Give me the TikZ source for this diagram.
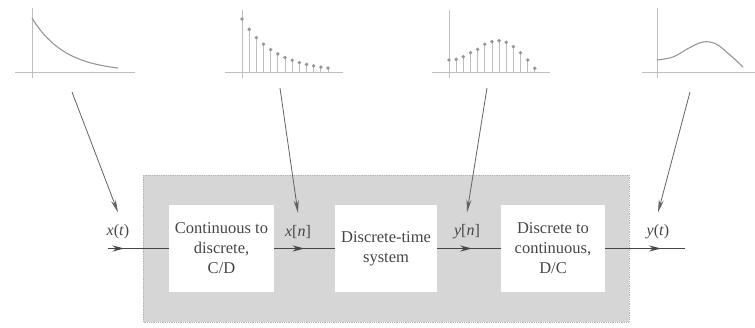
\documentclass[tikz,border=0pt]{standalone}
\usepackage{fontspec}
\setmainfont{Liberation Serif}
\usetikzlibrary{arrows.meta,decorations.markings}
\definecolor{panel}{RGB}{214,214,214}
\definecolor{paneledge}{RGB}{180,180,180}
\definecolor{ink}{RGB}{70,70,70}
\definecolor{plotink}{RGB}{150,150,150}
\definecolor{axisink}{RGB}{190,190,190}
\tikzset{
  block/.style={fill=white, draw=none, minimum height=87pt, align=center,
    text=ink, inner sep=2pt, font=\fontsize{16.5}{20}\selectfont},
  sig/.style={text=ink, inner xsep=1pt, inner ysep=12pt, font=\fontsize{16}{18}\selectfont},
  flow/.style={draw=ink, line width=1.5pt, postaction={decorate},
    decoration={markings, mark=at position #1 with {\arrow{Stealth[length=12pt,width=6pt]}}}},
  pointer/.style={draw=ink!85, line width=0.8pt, -{Stealth[length=13pt,width=5pt]}},
  axisline/.style={draw=axisink, line width=1pt},
  curveline/.style={draw=plotink, line width=1.1pt},
  stem/.style={draw=axisink, line width=0.8pt},
  dot/.style={fill=plotink},
}
\begin{document}
\begin{tikzpicture}[x=1pt, y=-1pt]
\useasboundingbox (0,0) rectangle (755,327);

% shaded system panel
\fill[panel] (143,175) rectangle (629,322);
\draw[paneledge, densely dotted, line width=0.8pt] (143,175) rectangle (629,322);

% processing blocks
\node[block, minimum width=105pt] (cd) at (221.5,248.5) {Continuous to\\discrete,\\C/D};
\node[block, minimum width=102pt] (dt) at (386,248.5) {Discrete-time\\system};
\node[block, minimum width=104pt] (dc) at (553,248.5) {Discrete to\\continuous,\\D/C};

% free ends of the signal path
\coordinate (in) at (108,248.5);
\coordinate (out) at (685,248.5);

% signal labels
\node[sig] (xt) at (118,232) {\textit{x}(\textit{t})};
\node[sig] (xn) at (298,232) {\textit{x}[\textit{n}]};
\node[sig] (yn) at (467,232) {\textit{y}[\textit{n}]};
\node[sig] (yt) at (658,232) {\textit{y}(\textit{t})};

% signal path
\draw[flow=0.27] (in) -- (cd.west);
\draw[flow=0.5] (cd.east) -- (dt.west);
\draw[flow=0.55] (dt.east) -- (dc.west);
\draw[flow=0.7] (dc.east) -- (out);

% sketch 1: continuous decaying signal
\draw[axisline] (15,72) -- (135,72);
\draw[axisline] (32,8) -- (32,78);
\draw[curveline] plot[domain=0:86, samples=40] ({32+\x},{72-54*exp(-\x/33)});

% sketch 2: sampled decaying sequence
\draw[axisline] (225,72) -- (343,72);
\draw[axisline] (242,10) -- (242,78);
\foreach \k in {0,...,12} {
  \pgfmathsetmacro{\sx}{242+7.17*\k}
  \pgfmathsetmacro{\sy}{72-53*0.806^\k}
  \draw[stem] (\sx,72) -- (\sx,\sy);
  \fill[dot] (\sx,\sy) circle (1.9pt);
}

% sketch 3: output sequence
\draw[axisline] (432,72) -- (550,72);
\draw[axisline] (449,10) -- (449,78);
\foreach \v [count=\k from 0] in {60,59.3,56.7,52.7,49.3,44.3,41.7,40.7,42.3,46.7,52.7,60,68.3} {
  \pgfmathsetmacro{\sx}{449+7.15*\k}
  \draw[stem] (\sx,72) -- (\sx,\v);
  \fill[dot] (\sx,\v) circle (1.9pt);
}

% sketch 4: reconstructed continuous output
\draw[axisline] (642,72) -- (755,72);
\draw[axisline] (657,8) -- (657,78);
\draw[curveline] plot[smooth, tension=0.6] coordinates
  {(657,60) (673,57) (689,48) (703,42) (716,44) (730,55) (743,67)};

% pointers from the sketches to the signals
\coordinate (p1) at (72,92);
\coordinate (p2) at (280,88);
\coordinate (p3) at (487,88);
\coordinate (p4) at (690,92);
\draw[pointer] (p1) -- (xt.north);
\draw[pointer] (p2) -- (xn.north);
\draw[pointer] (p3) -- (yn.north);
\draw[pointer] (p4) -- (yt.north);
\end{tikzpicture}
\end{document}
